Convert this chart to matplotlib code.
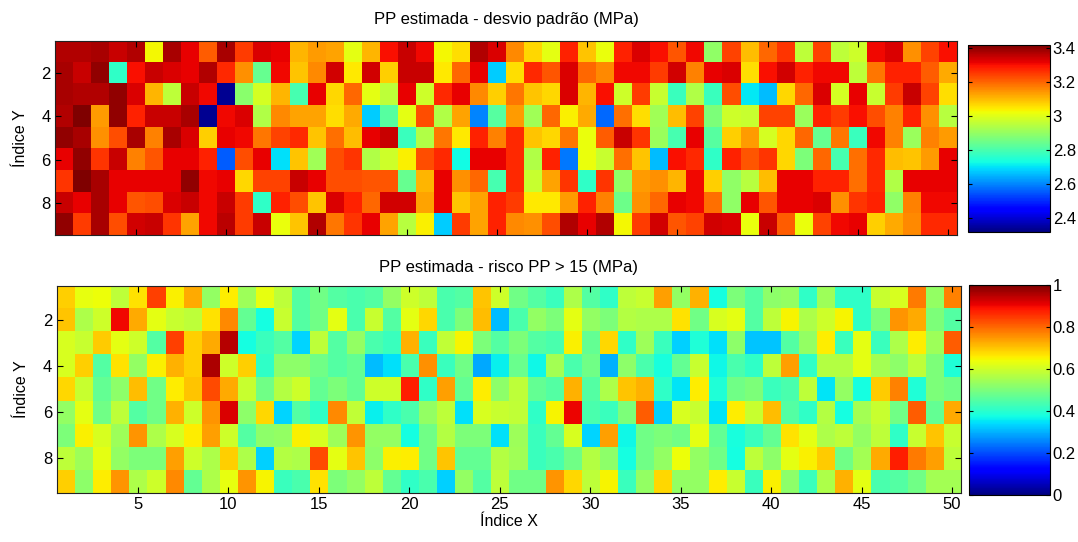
import numpy as np
import matplotlib
matplotlib.use("Agg")
import matplotlib.pyplot as plt
from matplotlib.ticker import FuncFormatter

plt.rcParams['font.family'] = ['Liberation Sans', 'DejaVu Sans']

# ---------------- data ----------------
x_index = list(range(1, 51))
y_index = list(range(1, 10))
x_ticks = [5, 10, 15, 20, 25, 30, 35, 40, 45, 50]
y_ticks = [2, 4, 6, 8]
cb1_ticks = [2.4, 2.6, 2.8, 3.0, 3.2, 3.4]
cb2_ticks = [0, 0.2, 0.4, 0.6, 0.8, 1.0]

title_top = "PP estimada - desvio padrão (MPa)"
title_bot = "PP estimada - risco PP > 15 (MPa)"
xlabel = "Índice X"
ylabel = "Índice Y"

# standard deviation (MPa), rows Y=1..9, columns X=1..50
desvio = [
    [3.37,3.37,3.38,3.35,3.37,3.03,3.38,3.32,3.21,3.38, 3.25,3.33,3.32,3.11,3.14,3.13,3.01,3.11,3.30,3.35,
     3.31,3.03,3.06,3.37,3.33,3.16,3.07,3.01,3.28,3.09, 3.02,3.28,3.33,3.30,3.22,3.31,2.90,3.24,3.10,3.20,
     3.26,2.96,3.24,2.96,2.98,3.31,3.33,3.15,3.24,3.30],
    [3.38,3.35,3.40,2.77,3.30,3.35,3.33,3.32,3.37,3.27, 3.15,2.84,3.31,3.09,3.16,3.34,3.05,3.34,3.08,3.35,
     3.35,3.05,3.20,3.32,2.68,3.06,3.27,3.22,3.33,3.20, 3.16,3.31,3.31,3.25,3.34,3.17,3.32,3.33,3.06,3.30,
     3.34,3.28,3.31,3.31,2.96,3.18,3.28,3.28,3.21,3.12],
    [3.38,3.37,3.37,3.40,3.33,3.11,2.96,3.35,3.31,2.34, 2.89,2.99,3.11,2.80,3.32,3.07,3.20,3.01,2.96,3.32,
     2.98,3.27,3.32,3.16,3.08,3.18,3.09,3.07,3.33,3.11, 3.30,2.98,3.25,2.97,2.78,2.94,2.78,3.23,2.71,2.66,
     3.07,3.20,3.33,2.99,3.32,2.97,3.25,3.35,3.24,3.06],
    [3.37,3.42,3.14,3.40,3.28,3.35,3.35,3.38,2.34,3.31, 3.33,2.94,3.16,3.13,3.13,3.06,3.12,2.68,2.82,3.01,
     3.23,2.94,3.13,2.60,2.82,3.14,2.92,3.20,3.04,3.12, 2.57,3.19,3.06,2.92,3.10,3.24,2.87,2.98,2.97,3.24,
     3.24,2.91,3.28,3.25,3.30,3.23,3.17,3.28,3.15,2.95],
    [3.40,3.38,3.15,3.23,3.38,3.17,3.38,3.33,3.08,3.32, 3.31,3.18,3.24,3.27,3.09,3.19,3.10,3.32,3.35,2.78,
     2.94,3.18,3.05,3.28,3.17,3.27,3.09,3.07,3.18,3.02, 3.21,3.35,3.26,2.91,2.80,3.32,2.82,3.08,3.14,2.99,
     3.07,3.20,2.84,3.18,2.78,3.31,3.17,2.91,3.17,3.14],
    [3.32,3.40,3.26,3.35,3.17,3.22,3.32,3.32,3.28,2.56, 3.23,3.32,2.70,3.09,2.92,3.23,3.26,2.94,2.98,3.04,
     3.23,3.27,2.73,3.32,3.32,3.27,2.94,3.28,2.59,3.02, 2.97,3.19,3.09,2.66,3.30,3.27,2.77,3.28,3.22,3.26,
     3.07,2.87,3.20,2.80,3.19,3.27,3.10,3.09,3.14,3.32],
    [3.26,3.42,3.38,3.32,3.32,3.32,3.32,3.40,3.31,3.32, 3.07,3.24,3.24,3.35,3.32,3.23,3.23,3.22,3.22,2.84,
     3.11,3.32,3.15,3.20,2.80,3.27,2.97,3.13,3.26,2.77, 3.26,2.90,3.14,3.15,3.11,3.31,3.08,2.90,2.95,3.10,
     3.32,3.32,3.28,3.28,3.19,3.27,2.94,3.32,3.32,3.32],
    [3.35,3.32,3.38,3.32,3.22,3.23,3.33,3.35,3.31,3.35, 3.25,2.77,3.28,3.23,3.09,3.33,3.28,3.20,3.34,3.34,
     3.13,3.32,3.09,3.13,3.28,3.25,3.05,3.05,3.14,3.28, 3.17,2.85,3.15,3.20,3.32,3.31,3.19,2.90,3.32,3.22,
     3.32,3.32,3.33,3.15,3.26,3.28,2.90,3.17,3.31,3.31],
    [3.40,3.25,3.38,3.23,3.34,3.35,3.26,3.13,3.31,3.36, 3.25,3.35,3.02,3.09,3.37,3.18,3.26,3.32,3.13,2.95,
     3.04,2.68,3.25,3.13,3.28,3.16,3.15,3.23,3.37,3.32, 3.37,3.03,3.25,3.34,3.22,3.24,3.34,3.33,3.02,3.35,
     3.21,3.02,3.24,3.31,3.32,3.08,3.12,3.16,3.27,3.27],
]

# risk PP > 15 (probability), rows Y=1..9, columns X=1..50
risco = [
    [0.69,0.63,0.64,0.58,0.67,0.84,0.655,0.73,0.53,0.66,0.54,0.63,0.58,
     0.45,0.485,0.45,0.44,0.45,0.53,0.60,0.58,0.44,0.45,0.70,0.60,0.485,
     0.45,0.42,0.56,0.45,0.41,0.58,0.59,0.74,0.53,0.72,0.375,0.50,
     0.45,0.52,0.53,0.41,0.54,0.41,0.41,0.59,0.61,0.78,0.53,0.77],
    [0.70,0.56,0.60,0.90,0.73,0.625,0.59,0.58,0.67,0.765,0.47,0.375,0.59,
     0.45,0.485,0.625,0.44,0.59,0.45,0.625,0.68,0.44,0.50,0.71,0.31,0.44,
     0.53,0.50,0.625,0.53,0.50,0.57,0.56,0.56,0.67,0.485,0.61,0.625,
     0.45,0.58,0.65,0.56,0.60,0.65,0.41,0.50,0.75,0.73,0.50,0.45],
    [0.61,0.59,0.695,0.625,0.60,0.45,0.84,0.69,0.73,0.95,0.375,0.42,0.45,
     0.335,0.58,0.45,0.53,0.44,0.42,0.72,0.42,0.585,0.65,0.50,0.45,0.50,
     0.45,0.44,0.655,0.47,0.68,0.41,0.54,0.42,0.33,0.39,0.345,0.52,
     0.32,0.32,0.45,0.53,0.66,0.42,0.625,0.42,0.56,0.66,0.54,0.81],
    [0.61,0.69,0.45,0.67,0.53,0.655,0.72,0.69,0.96,0.60,0.69,0.41,0.52,
     0.52,0.485,0.45,0.47,0.31,0.345,0.44,0.755,0.42,0.485,0.29,0.36,0.48,
     0.37,0.55,0.44,0.485,0.30,0.52,0.44,0.38,0.47,0.59,0.37,0.44,
     0.41,0.58,0.74,0.41,0.57,0.57,0.625,0.55,0.52,0.58,0.50,0.39],
    [0.68,0.59,0.47,0.52,0.71,0.485,0.66,0.70,0.83,0.73,0.59,0.485,0.57,
     0.60,0.47,0.50,0.47,0.60,0.60,0.875,0.41,0.74,0.47,0.66,0.52,0.58,
     0.47,0.45,0.72,0.45,0.56,0.70,0.72,0.41,0.35,0.66,0.39,0.485,
     0.50,0.42,0.44,0.58,0.35,0.53,0.375,0.695,0.77,0.39,0.50,0.485],
    [0.53,0.625,0.485,0.58,0.45,0.485,0.72,0.60,0.75,0.92,0.52,0.68,0.335,
     0.45,0.41,0.765,0.585,0.36,0.41,0.44,0.53,0.58,0.345,0.61,0.59,0.585,
     0.41,0.65,0.905,0.44,0.42,0.50,0.81,0.33,0.61,0.59,0.35,0.66,
     0.59,0.71,0.45,0.41,0.57,0.375,0.55,0.59,0.485,0.81,0.47,0.73],
    [0.50,0.655,0.61,0.54,0.75,0.56,0.61,0.66,0.74,0.60,0.45,0.52,0.53,
     0.655,0.61,0.54,0.75,0.53,0.53,0.375,0.485,0.57,0.50,0.50,0.345,0.54,
     0.42,0.47,0.61,0.335,0.74,0.37,0.485,0.50,0.485,0.625,0.47,0.38,
     0.42,0.47,0.67,0.625,0.56,0.58,0.53,0.58,0.41,0.59,0.70,0.59],
    [0.58,0.54,0.625,0.53,0.50,0.50,0.74,0.60,0.56,0.69,0.56,0.33,0.57,
     0.56,0.83,0.625,0.70,0.52,0.655,0.66,0.485,0.70,0.47,0.47,0.57,0.545,
     0.42,0.44,0.485,0.57,0.52,0.375,0.485,0.53,0.64,0.53,0.485,0.375,
     0.58,0.52,0.625,0.655,0.695,0.485,0.55,0.73,0.875,0.78,0.74,0.58],
    [0.69,0.52,0.66,0.75,0.56,0.60,0.765,0.47,0.56,0.63,0.75,0.65,0.42,
     0.44,0.67,0.50,0.53,0.58,0.47,0.41,0.44,0.33,0.53,0.45,0.58,0.485,
     0.485,0.75,0.68,0.58,0.65,0.42,0.53,0.68,0.53,0.53,0.66,0.59,
     0.42,0.655,0.52,0.42,0.56,0.72,0.625,0.44,0.45,0.485,0.55,0.55],
]

# ---------------- figure ----------------
W, H = 1078, 542
fig = plt.figure(figsize=(W / 100, H / 100), dpi=100)

def fr(x0, y0, x1, y1):
    return [x0 / W, 1 - y1 / H, (x1 - x0) / W, (y1 - y0) / H]

ax1 = fig.add_axes(fr(55, 40.7, 957, 235.5))
cax1 = fig.add_axes(fr(967.5, 45, 1050, 232))
ax2 = fig.add_axes(fr(56.5, 285.7, 961, 493))
cax2 = fig.add_axes(fr(968.5, 285, 1049.5, 495))

extent = [min(x_index) - 0.5, max(x_index) + 0.5, max(y_index) + 0.5, min(y_index) - 0.5]

im1 = ax1.imshow(np.array(desvio), cmap='jet', vmin=2.32, vmax=3.42, extent=extent,
                 aspect='auto', interpolation='nearest')
im2 = ax2.imshow(np.array(risco), cmap='jet', vmin=0, vmax=1, extent=extent,
                 aspect='auto', interpolation='nearest')

tick_fs = 12
fmt = FuncFormatter(lambda v, p: ('%g' % round(v, 4)))

for ax, title, tpad in ((ax1, title_top, 12), (ax2, title_bot, 10)):
    ax.set_xticks(x_ticks)
    ax.set_yticks(y_ticks)
    ax.tick_params(direction='in', length=4, width=0.8, top=True, right=True,
                   labelsize=tick_fs, colors='black', pad=3)
    ax.set_title(title, fontsize=12, pad=tpad)
    ax.set_ylabel(ylabel, fontsize=11.5, labelpad=10)
    for s in ax.spines.values():
        s.set_linewidth(0.8)
        s.set_color('#222222')

ax1.tick_params(labelbottom=False)
ax2.set_xlabel(xlabel, fontsize=11.5, labelpad=1)

cb1 = fig.colorbar(im1, cax=cax1, ticks=cb1_ticks, format=fmt)
cb2 = fig.colorbar(im2, cax=cax2, ticks=cb2_ticks, format=fmt)
for cb in (cb1, cb2):
    cb.ax.tick_params(direction='in', length=3, width=0.8, left=True, right=True,
                      labelsize=tick_fs, pad=2)
    cb.outline.set_linewidth(0.8)

fig.savefig('out.png', dpi=100)
